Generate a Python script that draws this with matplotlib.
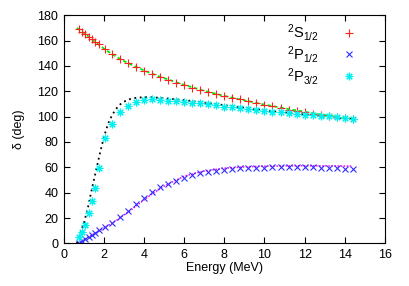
import matplotlib
matplotlib.use('Agg')
import matplotlib.pyplot as plt

plt.rcParams['font.family'] = ['Liberation Sans', 'DejaVu Sans']
plt.rcParams['mathtext.fontset'] = 'custom'
plt.rcParams['mathtext.rm'] = 'Liberation Sans'
plt.rcParams['mathtext.it'] = 'Liberation Sans'

# measured phase shifts (points), common energy grid in MeV
energy = [0.75, 0.9, 1.05, 1.25, 1.4, 1.55, 1.75, 2.05, 2.4, 2.8, 3.2, 3.6,
          4.0, 4.4, 4.8, 5.2, 5.6, 6.0, 6.4, 6.8, 7.2, 7.6, 8.0, 8.4, 8.8,
          9.2, 9.6, 10.0, 10.4, 10.8, 11.2, 11.6, 12.0, 12.4, 12.8, 13.2,
          13.6, 14.0, 14.4]

s12 = [168.9, 167.0, 165.2, 162.8, 161.0, 159.1, 157.1, 153.1, 149.0, 145.5,
       142.2, 139.2, 136.2, 133.6, 131.1, 128.9, 126.8, 124.6, 122.7, 121.0,
       119.4, 117.8, 116.3, 115.0, 113.6, 112.3, 110.8, 109.3, 108.0, 106.8,
       105.5, 104.4, 103.3, 102.3, 101.4, 100.6, 99.8, 99.1, 98.4]

p12 = [0.3, 1.8, 3.3, 5.2, 6.6, 7.9, 10.2, 12.8, 16.1, 20.6, 25.5, 30.8,
       35.5, 40.2, 44.1, 47.2, 49.5, 51.8, 53.8, 55.2, 56.5, 57.3, 57.9,
       58.6, 59.1, 59.3, 59.6, 59.8, 60.0, 60.1, 60.1, 60.1, 60.0, 59.9,
       59.7, 59.5, 59.2, 58.8, 58.3]

p32 = [4.7, 9.2, 14.5, 24.2, 33.8, 44.0, 59.5, 82.8, 94.2, 103.9, 108.4,
       111.5, 113.1, 113.6, 113.1, 112.6, 112.3, 111.8, 111.0, 110.5, 109.7,
       108.9, 107.8, 107.3, 106.5, 105.8, 105.2, 104.5, 103.9, 103.3, 102.7,
       102.1, 101.6, 101.1, 100.6, 100.1, 99.6, 99.1, 98.4]

# fitted curves
fit_e = [0.65, 0.8, 1.0, 1.2, 1.4, 1.6, 1.8, 2.0, 2.2, 2.4, 2.6, 2.8, 3.0,
         3.3, 3.6, 4.0, 4.4, 5.0, 6.0, 7.0, 8.0, 9.0, 10.0, 11.0, 12.0,
         13.0, 14.0, 14.4]

fit_s12 = [170.0, 168.2, 166.0, 163.5, 161.0, 158.4, 156.0, 153.6, 151.4,
           149.3, 147.4, 145.5, 143.8, 141.4, 139.2, 136.4, 133.8, 130.3,
           125.0, 120.3, 116.3, 112.8, 109.5, 106.5, 103.8, 101.2, 99.0, 98.2]

fit_p12 = [0.0, 1.2, 3.0, 4.8, 6.6, 8.4, 10.2, 12.0, 14.0, 16.0, 18.0, 20.2,
           22.4, 25.8, 29.4, 34.3, 39.0, 45.2, 53.0, 57.0, 59.3, 60.3, 60.9,
           61.1, 61.2, 61.1, 61.0, 61.0]

fit_p32 = [0.0, 7.0, 16.0, 28.0, 43.0, 57.0, 71.0, 84.0, 94.0, 101.0, 106.0,
           109.5, 111.8, 113.8, 114.8, 115.3, 115.2, 114.5, 113.0, 111.0,
           109.0, 107.0, 105.0, 103.2, 101.6, 100.0, 98.6, 98.0]

fig = plt.figure(figsize=(4.09, 2.86), dpi=100)
ax = fig.add_axes([0.156, 0.149, 0.785, 0.798])

ax.plot(fit_e, fit_s12, color='#00ee00', linestyle=(0, (2, 1.5)), linewidth=1.3)
ax.plot(fit_e, fit_p12, color='#ff00ff', linestyle=(0, (1, 1)), linewidth=1.1)
ax.plot(fit_e, fit_p32, color='black', linestyle=(0, (1, 2)), linewidth=1.3)

ax.plot(energy, s12, linestyle='none', marker='+', color='#ff2020',
        markersize=6, markeredgewidth=0.8, label=r'$^2$S$_{1/2}$')
ax.plot(energy, p12, linestyle='none', marker='x', color='#3030ff',
        markersize=4.5, markeredgewidth=0.8, label=r'$^2$P$_{1/2}$')
ax.plot(energy, p32, linestyle='none', marker=(8, 2, 0), color='#00f0f0',
        markersize=5.5, markeredgewidth=0.8, label=r'$^2$P$_{3/2}$')

ax.set_xlim(0, 16)
ax.set_ylim(0, 180)
ax.set_xticks(range(0, 17, 2))
ax.set_yticks(range(0, 181, 20))
ax.tick_params(direction='in', top=True, right=True, length=4, width=0.8,
               labelsize=9, pad=4)
for sp in ax.spines.values():
    sp.set_linewidth(0.8)

ax.set_xlabel('Energy (MeV)', fontsize=9, labelpad=1)
ax.set_ylabel('δ (deg)', fontsize=9, labelpad=9)

ax.legend(loc='upper right', bbox_to_anchor=(0.935, 0.995), frameon=False,
          markerfirst=False, fontsize=10.5, handlelength=1.2, handletextpad=1.5,
          labelspacing=0.05, borderaxespad=0)

fig.savefig('out.png', dpi=100)
